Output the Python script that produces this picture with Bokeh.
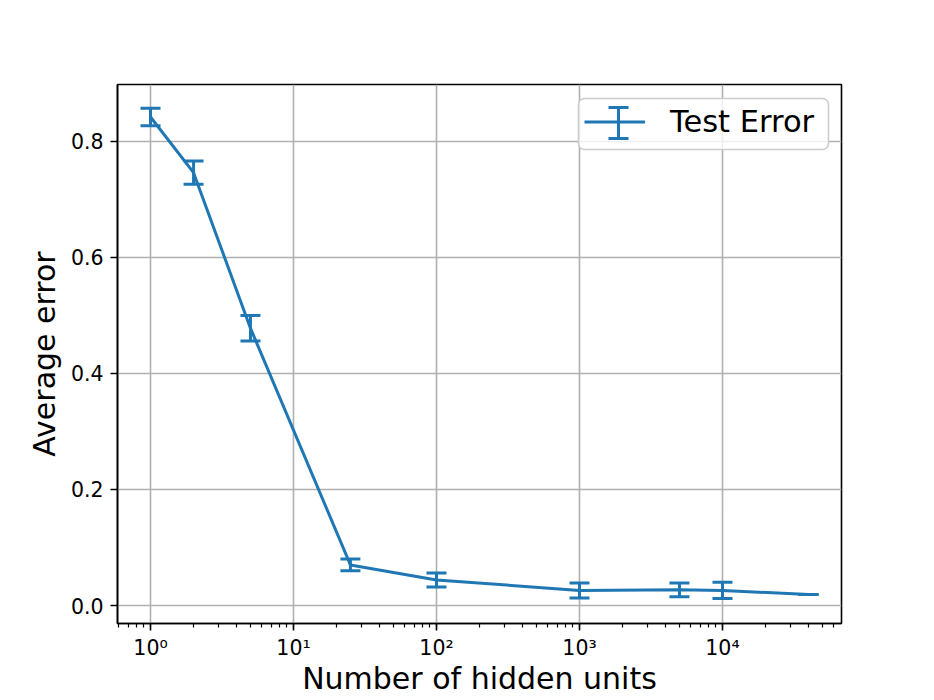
from bokeh.plotting import figure
from bokeh.models import (ColumnDataSource, Whisker, TeeHead, Range1d, FixedTicker, BoxAnnotation,
                          NumeralTickFormatter, CustomJSTickFormatter, Legend, LegendItem, Arrow)
from bokeh.embed import file_html
from bokeh.resources import INLINE

# ---- data ----
hidden_units = [1, 2, 5, 25, 100, 1000, 5000, 10000, 40000]
avg_error = [0.842, 0.746, 0.478, 0.070, 0.044, 0.026, 0.027, 0.026, 0.019]
err = [0.015, 0.020, 0.022, 0.010, 0.012, 0.013, 0.012, 0.014, 0.0]
y_ticks = [0.0, 0.2, 0.4, 0.6, 0.8]
x_label = "Number of hidden units"
y_label = "Average error"
series_name = "Test Error"

BLUE = "#1f77b4"
FONT = "DejaVu Sans"

src = ColumnDataSource(dict(
    x=hidden_units,
    y=avg_error,
    lower=[v - e for v, e in zip(avg_error, err)],
    upper=[v + e for v, e in zip(avg_error, err)],
))

p = figure(x_axis_type="log",
           x_range=Range1d(0.5877, 67960), y_range=Range1d(-0.031, 0.898),
           frame_width=724, frame_height=539,
           min_border_left=117, min_border_right=77, min_border_top=84, min_border_bottom=61,
           output_backend="svg", toolbar_location=None,
           background_fill_color="white", border_fill_color="white")

line_r = p.line("x", "y", source=src, line_color=BLUE, line_width=3)

whisker = Whisker(source=src, base="x", upper="upper", lower="lower", dimension="height",
                  line_color=BLUE, line_width=3, level="glyph",
                  upper_head=TeeHead(size=20, line_color=BLUE, line_width=3),
                  lower_head=TeeHead(size=20, line_color=BLUE, line_width=3))
p.add_layout(whisker)

# axes
for ax in (p.xaxis[0], p.yaxis[0]):
    ax.axis_label_text_font = FONT
    ax.axis_label_text_font_size = "30px"
    ax.axis_label_text_font_style = "normal"
    ax.axis_label_text_color = "black"
    ax.major_label_text_font = FONT
    ax.major_label_text_font_size = "20.5px"
    ax.major_label_text_color = "black"
    ax.axis_line_color = "black"
    ax.axis_line_width = 1.6
    ax.major_tick_line_color = "black"
    ax.major_tick_line_width = 1.6
    ax.minor_tick_line_color = "black"
    ax.minor_tick_line_width = 1.2
    ax.major_tick_out = 7
    ax.major_tick_in = 0
    ax.minor_tick_out = 4
    ax.minor_tick_in = 0

p.xaxis.major_label_standoff = 5
p.xaxis.axis_label_standoff = -2
p.yaxis.major_label_standoff = 7
p.yaxis.axis_label_standoff = 6

p.xaxis.axis_label = x_label
p.yaxis.axis_label = y_label
p.xaxis.formatter = CustomJSTickFormatter(code=r"""
const sup = ["\u2070","\u00b9","\u00b2","\u00b3","\u2074","\u2075","\u2076","\u2077","\u2078","\u2079"];
const e = Math.round(Math.log10(tick));
return "10" + String(e).split("").map(c => c == "-" ? "\u207b" : sup[parseInt(c)]).join("");
""")
p.yaxis.ticker = FixedTicker(ticks=y_ticks)
p.yaxis.formatter = NumeralTickFormatter(format="0.0")
p.yaxis.minor_tick_line_color = None

p.grid.grid_line_color = "#b0b0b0"
p.grid.grid_line_width = 1.6
p.grid.grid_line_alpha = 1.0

p.outline_line_color = "black"
p.outline_line_width = 1.6
p.outline_line_alpha = 1.0

# legend frame (drawn separately so the error-bar symbol can sit on top of it)
legend_box = BoxAnnotation(left=461, right=711, bottom=474, top=525,
                           left_units="screen", right_units="screen",
                           top_units="screen", bottom_units="screen",
                           fill_color="white", fill_alpha=0.8,
                           line_color="#cccccc", line_width=1.6, line_alpha=1.0,
                           border_radius=6, level="annotation")
p.add_layout(legend_box)

ibeam = Arrow(x_start=501, y_start=485, x_end=501, y_end=516,
              start_units="screen", end_units="screen",
              line_color=BLUE, line_width=3, level="annotation",
              start=TeeHead(size=20, line_color=BLUE, line_width=3),
              end=TeeHead(size=20, line_color=BLUE, line_width=3))
p.add_layout(ibeam)

legend = Legend(items=[LegendItem(label=series_name, renderers=[line_r])],
                location=(467, 484), padding=10, spacing=0, margin=0,
                glyph_width=61, glyph_height=31, label_height=31, label_standoff=25,
                label_text_font=FONT, label_text_font_size="30.5px", label_text_color="black",
                border_line_color=None, background_fill_alpha=0.0)
p.add_layout(legend)

with open("out.html", "w", encoding="utf-8") as f:
    f.write(file_html(p, INLINE))
